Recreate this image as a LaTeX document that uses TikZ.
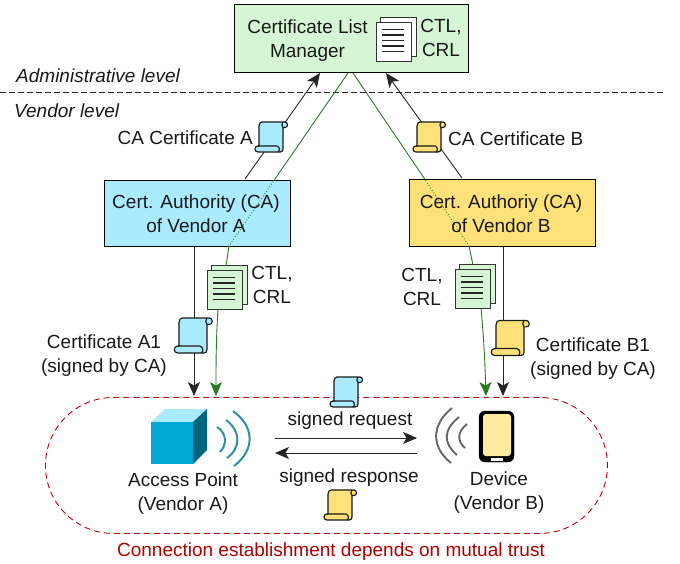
\documentclass[tikz,border=0pt]{standalone}
\usepackage{fontspec}
\setmainfont{Liberation Sans}
\usetikzlibrary{arrows.meta}
\definecolor{grn}{HTML}{D5F5D5}
\definecolor{blu}{HTML}{AAEBFF}
\definecolor{yel}{HTML}{FFE17A}
\definecolor{lgreen}{HTML}{2A7A22}
\definecolor{tealc}{HTML}{2E8FA8}
\definecolor{cubef}{HTML}{00A8D6}
\definecolor{cubes}{HTML}{006680}
\tikzset{
  x=1pt,y=-1pt,
  txt/.style={font=\fontsize{19}{24}\selectfont,align=center,inner sep=0pt,text=black!90},
  smalltxt/.style={txt,font=\fontsize{19}{24}\selectfont},
  boxn/.style={draw=black,line width=1.3pt,anchor=north west,inner sep=0pt},
  blackarrow/.style={draw=black!85,line width=0.9pt,-{Stealth[length=14pt,width=12pt,inset=3.5pt]}},
  greenarrow/.style={draw=lgreen,line width=0.9pt,-{Stealth[length=14pt,width=12pt,inset=3.5pt]}},
  greenline/.style={draw=lgreen,line width=0.9pt},
  waveT/.style={draw=tealc,line width=1.7pt,line cap=butt},
  waveG/.style={draw=black!60,line width=1.9pt},
}
\newcommand{\scrollicon}[4]{% x,y,scale,fill
 \begin{scope}[shift={(#1,#2)},x=#3pt,y=-#3pt,line width=1.15pt,draw=black!90,line join=round]
  \draw[fill=#4] (-12,9) -- (-12,-11) .. controls (-12,-13.5) and (-10.5,-15) .. (-9,-15) -- (14,-15)
     .. controls (17,-15) and (17.5,-9.5) .. (14,-9.5) -- (12,-9.5) -- (12,12)
     .. controls (12,14) and (11,15) .. (9,15) -- (-13,15) .. controls (-17,15) and (-17,9) .. (-13,9) -- cycle;
  \draw (12,-15) .. controls (10.5,-13) and (10.5,-11) .. (12,-9.5);
  \draw (-13,9) -- (6,9) .. controls (9,10) and (9,14) .. (7,15);
 \end{scope}}
\newcommand{\docicon}[3]{% x,y (front page top-left), fill
 \begin{scope}[shift={(#1,#2)},line width=1pt,draw=black!80]
  \draw[fill=#3] (4.5,-5) rectangle (40,34);
  \foreach \yy in {3,11,19,27}{\draw[line width=.8pt] (4.5,\yy) -- (8,\yy);}
  \draw[fill=#3] (0,0) rectangle (35.5,39);
  \foreach \yy in {7.5,13,18.5,24,29.5}{\draw[line width=1.1pt,draw=black!85] (6,\yy) -- (28,\yy);}
 \end{scope}}
\begin{document}
\begin{tikzpicture}
\useasboundingbox (0,0) rectangle (680,563);
% level line
\coordinate (lvlL) at (0,92); \coordinate (lvlR) at (663,92);
\draw[black!85,line width=0.9pt,dash pattern=on 5.5pt off 3.5pt] (lvlL) -- (lvlR);
% mutual trust region
\node[draw=red!75!black,line width=0.9pt,dash pattern=on 6pt off 4pt,rounded corners=68pt,minimum width=562pt,minimum height=136pt,inner sep=0pt,anchor=north west] (region) at (45,397) {};
% boxes
\node[boxn,fill=grn,minimum width=234pt,minimum height=68pt] (clm) at (234,4) {};
\node[boxn,fill=blu,minimum width=186pt,minimum height=66pt] (caa) at (104,180) {};
\node[boxn,fill=yel,minimum width=186pt,minimum height=67pt] (cab) at (409,179) {};
\coordinate (clmA) at (320,73); \coordinate (clmB) at (386,73);
\coordinate (caaT) at (245,179); \coordinate (cabT) at (462,178);
\coordinate (clmG1) at (348,73); \coordinate (clmG2) at (353,73);
% black arrows to CLM
\draw[blackarrow] (caaT) -- (clmA);
\draw[blackarrow] (cabT) -- (clmB);
% green lines
\coordinate (gA1) at (275,179); \coordinate (gA2) at (229,246); \coordinate (docAT) at (226,266);
\coordinate (gB1) at (424,178); \coordinate (gB2) at (469,246); \coordinate (docBT) at (473,265);
\draw[greenline] (clmG1) -- (gA1);
\draw[greenline,dotted] (gA1) -- (gA2);
\draw[greenline] (gA2) -- (docAT);
\draw[greenline] (clmG2) -- (gB1);
\draw[greenline,dotted] (gB1) -- (gB2);
\draw[greenline] (gB2) -- (docBT);
% arrows down
\coordinate (caaB) at (194,247); \coordinate (cabB) at (503,247);
\coordinate (apL) at (194,396); \coordinate (apR) at (216,396);
\coordinate (devL) at (486,396); \coordinate (devR) at (503,396);
\draw[blackarrow] (caaB) -- (apL);
\draw[blackarrow] (cabB) -- (devR);
\coordinate (docAB) at (218,309); \coordinate (docBB) at (481,308);
\draw[greenarrow] (docAB) .. controls (216,340) and (216,365) .. (apR);
\draw[greenarrow] (docBB) .. controls (484,340) and (485,365) .. (devL);
% docs
\docicon{376}{22}{white}
\docicon{207}{270}{grn}
\docicon{455}{269}{grn}
% scrolls
\scrollicon{271}{137}{1}{blu}
\scrollicon{429}{137}{1}{yel}
\scrollicon{193}{335.5}{1.17}{blu}
\scrollicon{510}{338}{1.17}{yel}
\scrollicon{346}{392}{1}{blu}
\scrollicon{340}{505}{1}{yel}
% texts
\node[txt] (tclm) at (307.5,41) {Certificate List\\Manager};
\node[txt] (tctl) at (441,38) {CTL,\\CRL};
\node[txt,font=\fontsize{19}{24}\selectfont\itshape,anchor=west] (tadm) at (16,76) {Administrative level};
\node[txt,font=\fontsize{19}{24}\selectfont\itshape,anchor=west] (tven) at (14,111) {Vendor level};
\node[txt,anchor=east] (tcaA) at (253,138) {CA Certificate A};
\node[txt,anchor=west] (tcaB) at (448,139) {CA Certificate B};
\node[txt] (ta) at (196,214) {Cert. Authority (CA)\\of Vendor A};
\node[txt] (tb) at (501,214) {Cert. Authoriy (CA)\\of Vendor B};
\node[smalltxt] (tl1) at (272,285) {CTL,\\CRL};
\node[smalltxt] (tl2) at (422,287) {CTL,\\CRL};
\node[smalltxt] (tA1) at (104,356) {Certificate A1\\(signed by CA)};
\node[smalltxt] (tB1) at (593,359) {Certificate B1\\(signed by CA)};
\node[txt] (tap) at (183,494) {Access Point\\(Vendor A)};
\node[txt] (tdev) at (499,493) {Device\\(Vendor B)};
\node[smalltxt] (treq) at (350,421) {signed request};
\node[smalltxt] (tres) at (349,478) {signed response};
\node[txt,text=red!70!black] (tmut) at (331,552) {Connection establishment depends on mutual trust};
% request/response
\coordinate (rq1) at (275,438); \coordinate (rq2) at (417,438);
\coordinate (rs1) at (417,453); \coordinate (rs2) at (275,453);
\draw[blackarrow] (rq1) -- (rq2);
\draw[blackarrow] (rs1) -- (rs2);
% cube
\fill[fill=blu] (151,422) -- (165,409) -- (207,409) -- (193,422) -- cycle;
\fill[fill=cubes] (193,422) -- (207,409) -- (207,450) -- (193,464) -- cycle;
\fill[fill=cubef] (151,422) rectangle (193,464);
\draw[waveT,line width=2pt] (217,427) .. controls (227,433) and (227,445) .. (220,452);
\draw[waveT,line width=2pt] (226,420) .. controls (241,431) and (241,448) .. (227,458);
\draw[waveT,line width=2pt] (233,411) .. controls (255,427) and (255,450) .. (234,466);
% device
\draw[fill=black,rounded corners=6pt] (479,411) rectangle (514,462);
\draw[draw=none,fill=yel!70!white,rounded corners=3pt] (483,414) rectangle (511,456);
\fill[white] (491,458) rectangle (503,461);
\draw[waveG] (467,424) .. controls (457,432) and (457,441) .. (465,448);
\draw[waveG] (459,417) .. controls (443,430) and (443,443) .. (457,455);
\draw[waveG] (452,408) .. controls (431,425) and (431,447) .. (451,463);
\end{tikzpicture}
\end{document}
